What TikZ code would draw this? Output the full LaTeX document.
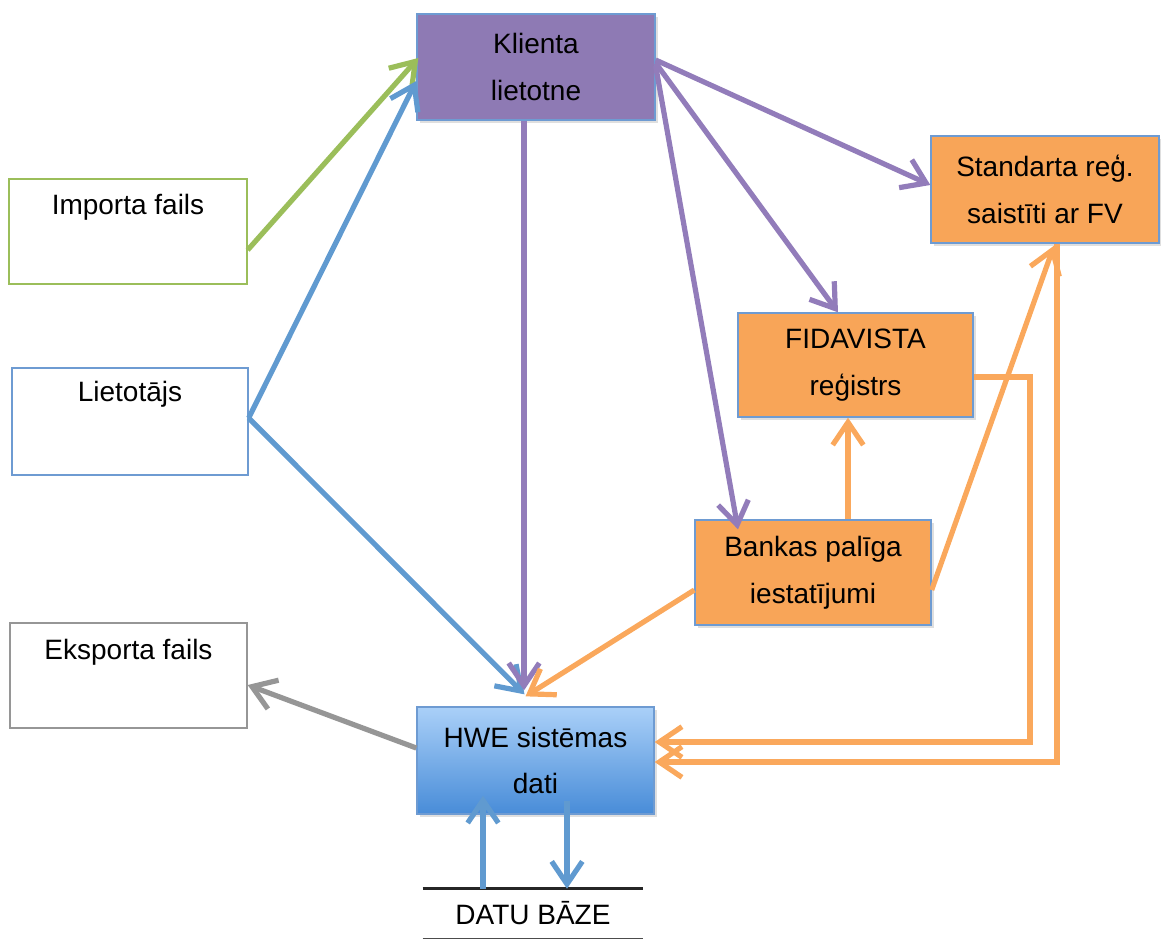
\documentclass[tikz,border=0pt]{standalone}
\usepackage{fontspec}
\setmainfont{Liberation Sans}
\usetikzlibrary{arrows.meta,calc,shadows}
\definecolor{purp}{RGB}{142,122,180}
\definecolor{purpline}{RGB}{146,124,186}
\definecolor{orng}{RGB}{248,165,88}
\definecolor{orline}{RGB}{250,168,92}
\definecolor{edgeblue}{RGB}{110,155,210}
\definecolor{blueline}{RGB}{96,154,208}
\definecolor{grn}{RGB}{155,190,90}
\definecolor{gry}{RGB}{150,150,150}
\definecolor{hwetop}{RGB}{170,208,248}
\definecolor{hwebot}{RGB}{72,140,216}
\tikzset{
  txt/.style={font=\fontsize{21}{35}\selectfont, align=center, text=black},
  boxbase/.style={draw, line width=1pt, inner sep=0pt, txt},
  colbox/.style={boxbase, draw=edgeblue, drop shadow={shadow xshift=2pt, shadow yshift=-2pt, opacity=0.25}},
  plainbox/.style={boxbase, fill=white},
  conn/.style={line width=3.9pt, -{Straight Barb[length=17pt,width=23pt]}},
}
\begin{document}
\begin{tikzpicture}[x=0.75pt,y=-0.75pt]
\path[use as bounding box] (0,0) rectangle (1161,940);

% boxes
\node[colbox, fill=purp, minimum width=178.5pt, minimum height=79.5pt] (kl) at (536,67) {Klienta\\lietotne};
\node[plainbox, draw=grn, minimum width=178.5pt, minimum height=78.75pt] (imp) at (128,231.5) {};
\node[plainbox, draw=edgeblue, minimum width=177pt, minimum height=80.25pt] (lie) at (130,421.5) {};
\node[plainbox, draw=gry, minimum width=177.75pt, minimum height=78.75pt] (exp) at (128.5,675.5) {};
\node[colbox, fill=orng, minimum width=171pt, minimum height=80.25pt] (st) at (1045,189.5) {Standarta reģ.\\saistīti ar FV};
\node[colbox, fill=orng, minimum width=176.25pt, minimum height=78pt] (fid) at (855.5,365) {FIDAVISTA\\reģistrs};
\node[colbox, fill=orng, minimum width=177pt, minimum height=78.75pt] (bank) at (813,572.5) {Bankas palīga\\iestatījumi};
\node[colbox, top color=hwetop, bottom color=hwebot, minimum width=177.75pt, minimum height=80.25pt] (hwe) at (535.5,760.5) {HWE sistēmas\\dati};

\node[txt, anchor=base] (imptxt) at ($(imp.north)+(0,36)$) {Importa fails};
\node[txt, anchor=base] (lietxt) at ($(lie.north)+(0,34)$) {Lietotājs};
\node[txt, anchor=base] (exptxt) at ($(exp.north)+(0,37)$) {Eksporta fails};

% database
\node[txt, minimum width=165pt, minimum height=36.75pt, inner sep=0pt] (db) at (533,913.5) {DATU BĀZE};
\draw[line width=2pt, black!85] (db.north west) -- (db.north east);
\draw[line width=1pt, black!70] (db.south west) -- (db.south east);

% coordinates
\coordinate (hwetip) at ($(hwe.north)+(-11,-12)$);
\coordinate (fork) at ($(lie.east)+(0,-3.5)$);

% green
\draw[conn, grn] ($(imp.east)+(0,18.5)$) -- ($(kl.west)+(2,-9)$);
% blue
\draw[conn, blueline] (fork) -- ($(kl.west)+(0,14)$);
\draw[conn, blueline] (fork) -- (hwetip);
% purple
\draw[conn, purpline] ($(kl.south)+(-12,0)$) -- ($(hwe.north)+(-11.5,-16)$);
\draw[conn, purpline] ($(kl.east)+(0,-7)$) -- ($(st.west)+(0,-4.5)$);
\draw[conn, purpline] ($(kl.east)+(0,-4)$) -- ($(fid.north)+(-17.5,0)$);
\draw[conn, purpline] ($(kl.east)+(0,-1)$) -- ($(bank.north)+(-75,10)$);
% orange
\draw[conn, orline] ($(bank.west)+(0,17.5)$) -- ($(hwe.north)+(-10,-10)$);
\draw[conn, orline] ($(bank.north)+(35,0)$) -- ($(fid.south)+(-7.5,0)$);
\draw[conn, orline] ($(bank.east)+(0,17.5)$) -- ($(st.south)+(9,2)$);
\draw[conn, orline] ($(fid.east)+(0,12)$) -| (1030,742) -- ($(hwe.east)+(0,-18.5)$);
\coordinate (stdrop) at ($(st.south)+(12,0)$);
\draw[conn, orline] (stdrop) |- ($(hwe.east)+(0,1.5)$);
% gray
\draw[conn, gry] ($(hwe.west)+(0,-12.5)$) -- ($(exp.east)+(0,9.5)$);
% database arrows
\draw[conn, blueline] ($(db.north)+(-50,0)$) -- ($(hwe.south)+(-52.5,-19)$);
\draw[conn, blueline] ($(hwe.south)+(31.5,-14)$) -- ($(db.north)+(34,0)$);
\end{tikzpicture}
\end{document}
